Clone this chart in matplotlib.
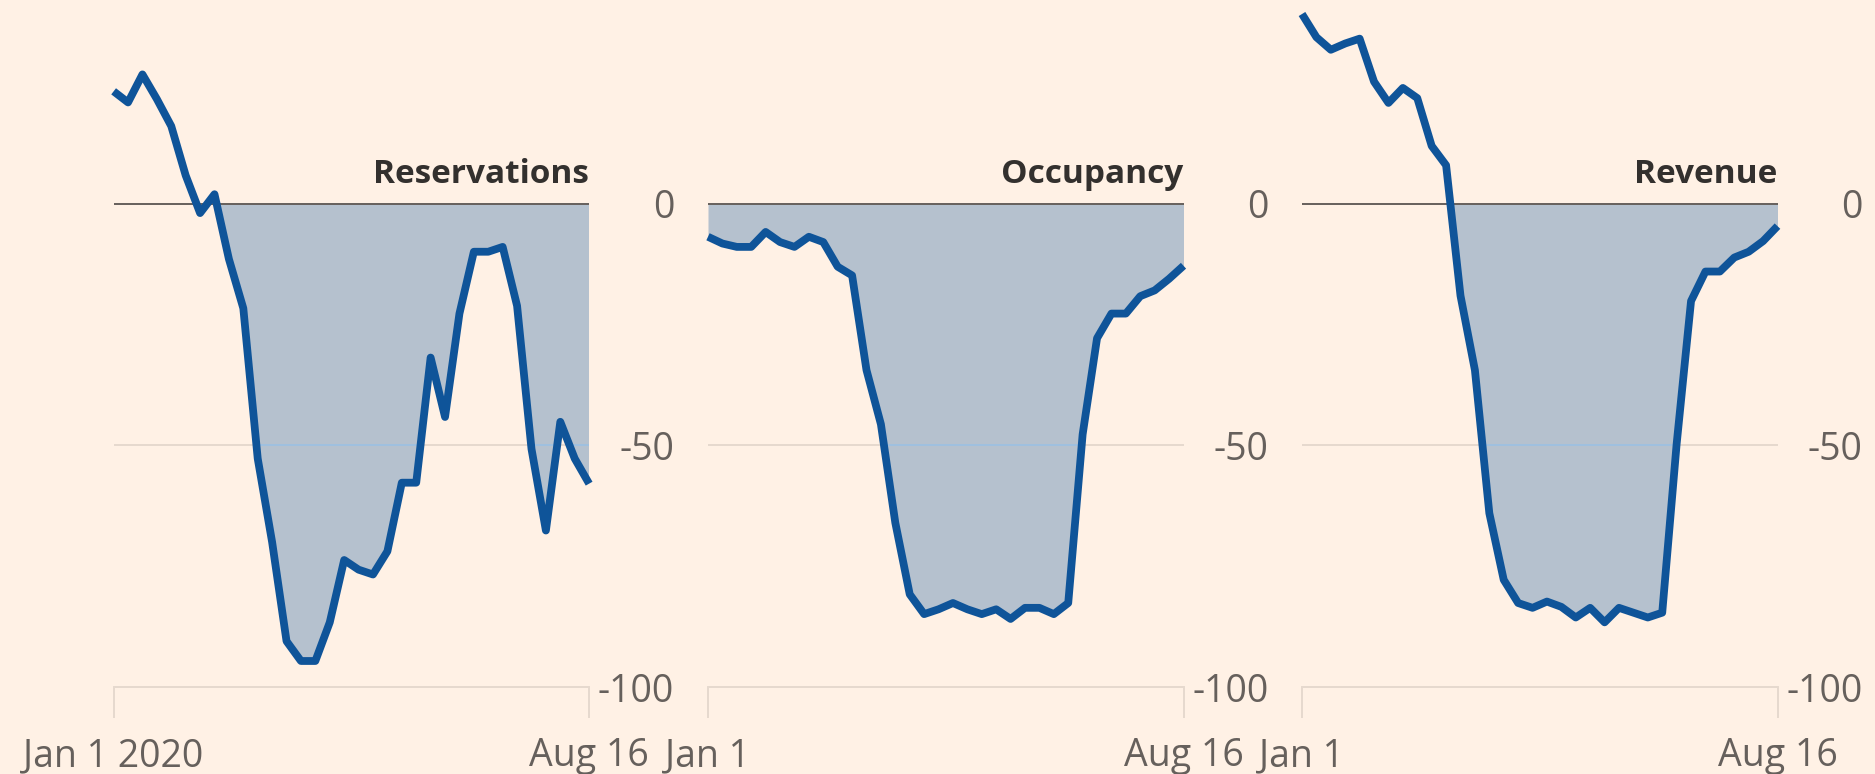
import numpy as np
import pandas as pd
import matplotlib
matplotlib.use("Agg")
import matplotlib.pyplot as plt
from matplotlib.path import Path

plt.rcParams["font.family"] = ["Open Sans", "DejaVu Sans"]

# weekly % change vs 2019, Jan 1 - Aug 16 2020
dates = pd.date_range("2020-01-01", "2020-08-16", periods=34)

reservations = [23.3, 21.0, 26.8, 21.7, 16.1, 5.9, -1.9, 2.0, -11.4, -21.6,
                -52.7, -70.0, -90.5, -94.6, -94.6, -86.6, -73.7, -75.7, -76.7, -71.9,
                -57.7, -57.7, -31.8, -44.1, -22.7, -9.9, -9.9, -8.9, -21.1, -50.7,
                -67.6, -45.1, -52.7, -57.9]

occupancy = [-6.8, -8.2, -8.9, -8.9, -5.8, -7.9, -8.9, -6.8, -7.9, -13.0,
             -14.8, -34.4, -45.6, -66.0, -80.8, -84.9, -83.9, -82.6, -83.9, -84.9,
             -83.9, -85.9, -83.6, -83.6, -84.9, -82.6, -47.7, -27.8, -22.7, -22.7,
             -19.1, -17.9, -15.5, -12.8]

revenue = [39.3, 34.5, 31.9, 33.2, 34.2, 25.3, 20.9, 24.0, 21.9, 12.0,
           8.0, -19.0, -34.4, -64.0, -77.8, -82.6, -83.6, -82.3, -83.4, -85.6,
           -83.6, -86.6, -83.6, -84.6, -85.6, -84.6, -49.7, -20.1, -14.0, -14.0,
           -11.1, -9.9, -7.7, -4.6]

titles = ["Reservations", "Occupancy", "Revenue"]
series = [reservations, occupancy, revenue]
first_labels = ["Jan 1 2020", "Jan 1", "Jan 1"]
last_label = "Aug 16"
yticks = [0, -50, -100]

BG = "#fff1e5"
LINE = "#0f5499"
FILL = "#b5c1ce"
GRID = "#e6d9ce"
TEXT = "#66605c"

fig = plt.figure(figsize=(18.75, 7.74), dpi=100)
fig.set_facecolor(BG)

lefts = [0.0606, 0.3776, 0.6944]
width = 0.2536
bottom = 0.1123
height = 1 - bottom

for left, title, vals, first in zip(lefts, titles, series, first_labels):
    ax = fig.add_axes([left, bottom, width, height])
    ax.set_facecolor("none")
    vals = np.array(vals)

    ax.set_xlim(dates[0], dates[-1])
    ax.set_ylim(-100, 42.2)

    # gridline at -50 behind the shading
    ax.axhline(-50, color=GRID, lw=1.4, zorder=1)

    poly = ax.fill_between(dates, vals, 0, where=vals < 0, interpolate=True,
                           color=FILL, lw=0, zorder=2)

    # brighter gridline where it crosses the shaded area
    hl = ax.axhline(-50, color="#9fc0e0", lw=1.4, zorder=3)
    paths = poly.get_paths()
    if paths:
        hl.set_clip_path(Path.make_compound_path(*paths), ax.transData)

    ax.axhline(0, color=TEXT, lw=1.4, zorder=3)
    ax.plot(dates, vals, color=LINE, lw=5.6, zorder=4, clip_on=False,
            solid_joinstyle="round", solid_capstyle="butt")

    for s in ["top", "left", "right"]:
        ax.spines[s].set_visible(False)
    ax.spines["bottom"].set_color(GRID)
    ax.spines["bottom"].set_linewidth(1.4)

    ax.set_xticks([dates[0], dates[-1]])
    ax.set_xticklabels([first, last_label])
    ax.tick_params(axis="x", length=22, width=1.4, color=GRID, labelsize=27,
                   labelcolor=TEXT, pad=14)

    ax.yaxis.tick_right()
    ax.set_yticks(yticks)
    ax.set_yticklabels([str(t) for t in yticks])
    ax.tick_params(axis="y", length=0, labelsize=27, labelcolor=TEXT, pad=0)
    for lab in ax.get_yticklabels():
        lab.set_horizontalalignment("right")
        lab.set_x(1.0 + 85 / 476)

    ax.text(1.0, 2.6, title, transform=ax.get_yaxis_transform(), ha="right",
            va="bottom", fontsize=24, fontweight="bold", color="#33302e")

fig.savefig("out.png", dpi=100, facecolor=BG)
